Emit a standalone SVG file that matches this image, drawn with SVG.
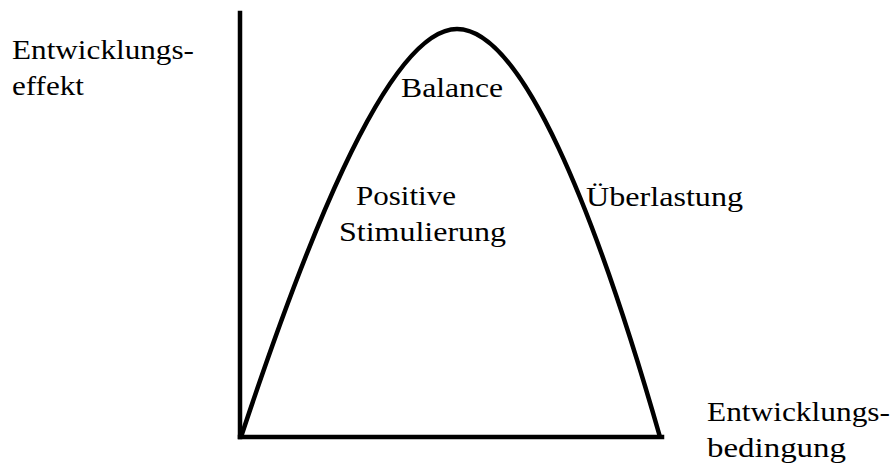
<svg xmlns="http://www.w3.org/2000/svg" width="894" height="464" viewBox="0 0 894 464">
  <style>
    text { font-family: 'Liberation Serif', 'DejaVu Serif', serif; font-size: 27px; fill: #000; }
    .ln { fill: none; stroke: #000; stroke-width: 4.5; stroke-linecap: square; }
  </style>
  <rect x="0" y="0" width="894" height="464" fill="#fff"/>
  <g id="connectors">
    <path id="y-axis" class="ln" d="M240,13 L240,437"/>
    <path id="x-axis" class="ln" d="M240,437 L662,437"/>
    <path id="curve" class="ln" style="stroke-linecap:butt" d="M241,437 C298,265 385,29 457,29 C522,29 595,210 660,437"/>
  </g>
  <g id="y-label">
    <text x="12" y="59" textLength="182" lengthAdjust="spacingAndGlyphs">Entwicklungs-</text>
    <text x="12" y="95" textLength="72" lengthAdjust="spacingAndGlyphs">effekt</text>
  </g>
  <g id="x-label">
    <text x="707" y="421" textLength="183" lengthAdjust="spacingAndGlyphs">Entwicklungs-</text>
    <text x="707" y="457" textLength="139" lengthAdjust="spacingAndGlyphs">bedingung</text>
  </g>
  <g id="balance">
    <text x="401" y="97" textLength="102" lengthAdjust="spacingAndGlyphs">Balance</text>
  </g>
  <g id="positive">
    <text x="356" y="205" textLength="100" lengthAdjust="spacingAndGlyphs">Positive</text>
    <text x="339" y="241" textLength="167" lengthAdjust="spacingAndGlyphs">Stimulierung</text>
  </g>
  <g id="ueberlastung">
    <text x="586" y="206" textLength="157" lengthAdjust="spacingAndGlyphs">Überlastung</text>
  </g>
</svg>
